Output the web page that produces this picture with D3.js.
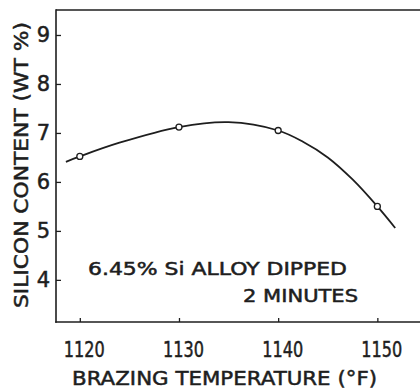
<!DOCTYPE html>
<html><head><meta charset="utf-8">
<script src="https://cdn.jsdelivr.net/npm/d3@7"></script>
<style>
body{margin:0;background:#fff;}
text{font-family:"DejaVu Sans","Liberation Sans",sans-serif;fill:#1e1e1e;stroke:#1e1e1e;stroke-width:0.5;}
</style></head>
<body><svg id="c" width="420" height="389"></svg>
<script>
const pointX = [1120, 1130, 1140, 1150];
const pointY = [6.52, 7.12, 7.05, 5.50];
const curveX = [1118.6, 1120, 1124, 1130, 1135, 1140, 1142.5, 1145, 1147.5, 1150, 1151.8];
const curveY = [6.41, 6.52, 6.80, 7.12, 7.22, 7.05, 6.82, 6.50, 6.05, 5.50, 5.06];
const xTicks = [1120, 1130, 1140, 1150];
const yTicks = [4, 5, 6, 7, 8, 9];
const xTitle = "BRAZING TEMPERATURE (°F)";
const yTitle = "SILICON CONTENT (WT %)";
const note1 = "6.45% Si ALLOY DIPPED";
const note2 = "2 MINUTES";

const svg = d3.select("#c");
const x = d3.scaleLinear().domain([1117.6, 1154.3]).range([56, 420]);
const y = d3.scaleLinear().domain([3.14, 9.51]).range([322, 10]);
const ink = "#1e1e1e";

// frame
svg.append("line").attr("x1",56).attr("x2",420).attr("y1",10).attr("y2",10).attr("stroke",ink).attr("stroke-width",1.6);

const yAxis = svg.append("g").attr("transform","translate(56,0)")
  .call(d3.axisRight(y).tickValues(yTicks).tickSize(5).tickFormat(""));
const xAxis = svg.append("g").attr("transform","translate(0,322)")
  .call(d3.axisTop(x).tickValues(xTicks).tickSize(4).tickFormat(""));
[yAxis,xAxis].forEach(g=>{
  g.select(".domain").remove();
  g.selectAll("line").attr("stroke",ink).attr("stroke-width",1.3);
});
svg.append("line").attr("x1",56).attr("x2",56).attr("y1",9.2).attr("y2",322.8).attr("stroke",ink).attr("stroke-width",1.6);
svg.append("line").attr("x1",55.2).attr("x2",420).attr("y1",322).attr("y2",322).attr("stroke",ink).attr("stroke-width",1.6);

// tick labels
svg.selectAll(".yl").data(yTicks).enter().append("text")
  .attr("x",50).attr("y",d=>y(d)+7.5).attr("text-anchor","end")
  .attr("font-size",21).text(d=>d);
svg.selectAll(".xl").data(xTicks).enter().append("text")
  .attr("x",d=>x(d)-16).attr("y",357)
  .attr("font-size",21).attr("textLength",41).attr("lengthAdjust","spacingAndGlyphs").text(d=>d);

// titles
svg.append("text").attr("x",72).attr("y",385)
  .attr("font-size",19).attr("textLength",305).attr("lengthAdjust","spacingAndGlyphs").text(xTitle);
svg.append("text").attr("transform","translate(28,308) rotate(-90)")
  .attr("font-size",19).attr("textLength",286).attr("lengthAdjust","spacingAndGlyphs").text(yTitle);

// curve
const pts = curveX.map((v,i)=>[v,curveY[i]]);
const line = d3.line().x(d=>x(d[0])).y(d=>y(d[1])).curve(d3.curveCatmullRom.alpha(0.5));
svg.append("path").attr("d",line(pts)).attr("fill","none").attr("stroke",ink).attr("stroke-width",1.8);

svg.selectAll(".pt").data(pointX.map((v,i)=>[v,pointY[i]])).enter().append("circle")
  .attr("cx",d=>x(d[0])).attr("cy",d=>y(d[1])).attr("r",3)
  .attr("fill","#fff").attr("stroke",ink).attr("stroke-width",1.3);

// notes
svg.append("text").attr("x",88).attr("y",275).attr("font-size",17)
  .attr("textLength",259).attr("lengthAdjust","spacingAndGlyphs").text(note1);
svg.append("text").attr("x",243).attr("y",302).attr("font-size",17)
  .attr("textLength",115).attr("lengthAdjust","spacingAndGlyphs").text(note2);
</script></body></html>
